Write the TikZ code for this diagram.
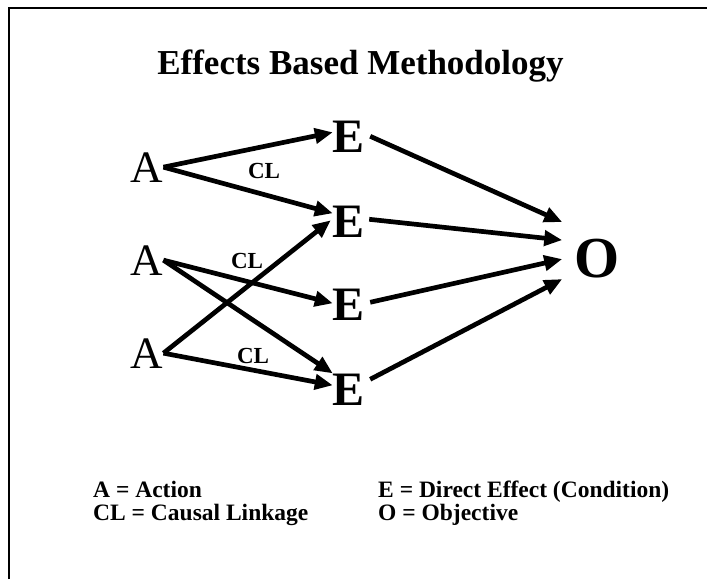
\documentclass[tikz,border=0pt]{standalone}
\usepackage{fontspec}
\setmainfont{Liberation Serif}
\usetikzlibrary{arrows.meta}
\begin{document}
\begin{tikzpicture}[x=1pt,y=-1pt,
  lbl/.style={inner sep=0pt,anchor=base},
  anode/.style={lbl,font=\fontsize{45}{50}\selectfont},
  enode/.style={lbl,font=\fontsize{48}{54}\selectfont\bfseries},
  clnode/.style={lbl,font=\fontsize{23}{27}\selectfont\bfseries},
  legend/.style={inner sep=0pt,anchor=base west,font=\fontsize{23.5}{28}\selectfont\bfseries},
  link/.style={line width=4.7pt,-{Triangle[length=18pt,width=15pt]}},
  frame/.style={line width=2pt}]
\useasboundingbox (0,0) rectangle (707,579);
\coordinate (fb) at (9,579);
\coordinate (fc) at (9,8);
\coordinate (fr) at (707,8);
\draw[frame] (fb) -- (fc) -- (fr);
\node[lbl,font=\fontsize{35}{42}\selectfont\bfseries] (title) at (360.5,74) {Effects Based Methodology};
\node[anode] (A1) at (147,182) {A};
\node[anode] (A2) at (147,275) {A};
\node[anode] (A3) at (147,368) {A};
\node[enode] (E1) at (349,152) {E};
\node[enode] (E2) at (349,237) {E};
\node[enode] (E3) at (349,320) {E};
\node[enode] (E4) at (349,405) {E};
\node[lbl,font=\fontsize{58}{64}\selectfont\bfseries,inner xsep=12pt] (O) at (597,277) {O};
\node[clnode] (CL1) at (264,178) {CL};
\node[clnode] (CL2) at (247,268) {CL};
\node[clnode] (CL3) at (253,363) {CL};
\draw[link] (A1.east) -- ([yshift=4pt]E1.west);
\draw[link] (A1.east) -- ([yshift=8pt]E2.west);
\draw[link] (A2.east) -- ([yshift=1pt]E3.west);
\draw[link] (A2.east) -- (E4.north west);
\draw[link] (A3.east) -- ([xshift=-2pt,yshift=1pt]E2.west);
\draw[link] (A3.east) -- ([yshift=4pt]E4.west);
\draw[link] ([xshift=5pt]E1.east) -- ([yshift=36pt]O.west);
\draw[link] ([xshift=4pt,yshift=2pt]E2.east) -- ([yshift=18pt]O.west);
\draw[link] ([xshift=5pt,yshift=2pt]E3.east) -- ([yshift=-1pt]O.west);
\draw[link] ([xshift=5pt,yshift=10pt]E4.east) -- ([yshift=-21pt]O.west);
\node[legend] (LA) at (93,497) {A = Action};
\node[legend] (LCL) at (93,520) {CL = Causal Linkage};
\node[legend] (LE) at (378,497) {E = Direct Effect (Condition)};
\node[legend] (LO) at (378,520) {O = Objective};
\end{tikzpicture}
\end{document}
